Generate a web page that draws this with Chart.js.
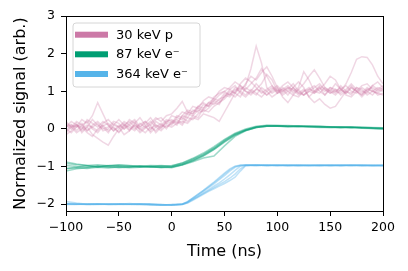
<!DOCTYPE html>
<html><head><meta charset="utf-8">
<script src="https://cdn.jsdelivr.net/npm/chart.js@4.4.0/dist/chart.umd.min.js"></script>
<style>html,body{margin:0;padding:0;background:#fff;}canvas{display:block;}</style>
</head><body>
<canvas id="c" width="408" height="271"></canvas>
<script>
// ---- data ----
const tP = [-100,-95,-90,-85,-80,-75,-70,-65,-60,-55,
  -50,-45,-40,-35,-30,-25,-20,-15,-10,-5,
  0,5,10,15,20,25,30,35,40,45,
  50,55,60,65,70,75,80,85,90,95,
  100,105,110,115,120,125,130,135,140,145,
  150,155,160,165,170,175,180,185,190,195,
  200];
const pink1 = [0.05,0.12,-0.05,0.10,0.20,0.00,-0.10,0.08,0.15,0.02,
  -0.08,0.10,0.05,-0.05,0.12,0.20,0.00,0.10,0.05,0.15,
  0.10,0.30,0.25,0.45,0.40,0.60,0.55,0.70,0.80,0.75,
  0.95,0.90,1.10,1.05,1.15,1.60,2.20,1.75,1.10,0.95,
  1.05,0.90,1.00,1.10,0.95,1.05,0.85,1.00,1.10,0.90,
  1.05,0.95,1.15,1.00,0.90,1.10,1.00,0.95,1.15,1.05,
  1.00];
const pink2 = [-0.05,0.10,0.05,0.25,0.15,0.35,0.70,0.40,0.10,-0.05,
  0.05,0.15,-0.02,0.10,0.00,0.08,0.20,0.05,-0.05,0.10,
  0.05,0.15,0.20,0.15,0.30,0.25,0.40,0.35,0.30,0.20,
  0.45,0.70,0.95,0.85,1.10,1.00,1.20,1.05,0.90,1.00,
  1.10,0.95,1.05,1.20,1.00,0.90,1.05,1.00,1.15,1.05,
  0.95,1.05,1.00,1.20,1.50,1.85,1.92,1.90,1.70,1.40,
  1.20];
const pink3 = [0.10,0.00,0.15,-0.10,0.05,-0.15,-0.25,-0.35,-0.43,-0.20,
  0.00,0.10,0.20,0.05,-0.10,0.02,0.15,0.30,0.20,0.35,
  0.40,0.55,0.73,0.45,0.40,0.55,0.50,0.65,0.75,0.70,
  0.85,1.00,0.95,1.10,1.00,0.95,1.05,1.20,1.45,1.30,
  1.00,1.05,0.90,1.10,1.25,1.10,0.85,0.70,0.80,0.65,
  0.55,0.60,0.80,1.00,0.95,1.10,1.05,0.90,1.00,0.95,
  0.90];
const pink4 = [0.00,-0.10,0.05,0.15,-0.05,0.10,0.20,0.05,-0.10,0.10,
  0.25,0.10,-0.05,0.15,0.30,0.10,-0.10,0.05,0.15,0.00,
  0.20,0.10,0.35,0.30,0.50,0.45,0.65,0.60,0.85,0.95,
  1.00,0.90,1.05,1.00,1.20,1.40,1.30,1.50,1.65,1.40,
  1.10,0.85,0.70,0.90,1.05,1.20,1.40,1.57,1.35,1.10,
  1.00,1.20,1.05,0.95,1.10,1.00,0.90,1.05,1.00,1.10,
  1.05];
const pink5 = [0.15,0.05,-0.10,0.00,0.10,0.05,-0.05,0.15,0.25,0.10,
  0.05,-0.15,-0.05,0.10,0.00,-0.10,0.05,-0.05,0.10,0.05,
  0.15,0.20,0.10,0.30,0.25,0.40,0.50,0.45,0.60,0.70,
  0.80,0.95,0.85,1.00,0.90,1.05,0.95,0.85,1.00,1.10,
  0.95,1.05,1.15,1.00,1.10,1.52,1.30,1.00,0.95,1.10,
  1.00,0.90,1.05,1.15,1.00,0.95,1.10,1.00,0.90,1.05,
  1.15];
const pink6 = [-0.10,0.05,0.20,0.10,-0.05,0.05,0.15,-0.05,0.00,0.15,
  0.05,0.20,0.10,0.00,0.15,0.05,-0.05,0.20,0.10,0.25,
  0.20,0.25,0.15,0.40,0.35,0.30,0.55,0.70,0.65,0.80,
  0.85,1.05,1.15,0.95,0.85,1.00,0.90,1.10,1.00,0.85,
  0.95,1.10,1.00,0.90,0.85,1.00,1.10,0.95,1.05,1.20,
  1.40,1.30,1.05,0.95,1.10,1.00,0.85,1.00,1.15,1.25,
  1.10];
const pink7 = [0.05,0.20,0.10,0.00,0.25,0.15,0.05,0.20,0.10,-0.05,
  0.10,0.00,0.15,0.25,0.05,0.15,0.30,0.10,0.00,0.20,
  0.25,0.15,0.35,0.50,0.45,0.60,0.70,0.60,0.75,0.90,
  1.00,1.10,1.25,1.15,1.00,0.90,1.05,1.00,0.90,1.05,
  1.15,1.00,1.10,1.05,0.90,1.00,1.05,1.15,1.00,0.90,
  1.10,1.00,0.95,1.05,1.20,1.05,0.95,1.10,1.00,0.95,
  1.05];
const pink8 = [0.20,0.05,0.10,-0.05,0.05,0.25,0.10,0.00,0.05,0.20,
  0.15,0.00,0.10,0.20,-0.05,0.05,0.10,0.25,0.30,0.15,
  0.35,0.30,0.45,0.40,0.60,0.55,0.75,0.85,0.80,1.00,
  1.10,1.05,0.95,1.20,1.35,1.25,1.10,0.95,1.05,1.15,
  1.00,1.15,1.25,1.10,0.95,0.90,1.00,1.10,1.20,1.05,
  0.95,1.00,1.10,0.90,0.85,1.00,1.15,1.20,1.05,0.90,
  0.95];
const pink9 = [-0.15,-0.05,0.10,0.05,-0.10,-0.20,0.00,0.10,-0.05,0.05,
  -0.10,0.05,0.25,0.15,0.05,0.20,0.10,-0.10,0.05,0.20,
  0.15,0.35,0.30,0.20,0.35,0.50,0.45,0.55,0.70,0.65,
  0.90,0.85,1.00,1.15,1.05,1.20,1.35,1.60,1.40,1.15,
  0.95,1.00,1.10,0.95,1.05,0.90,1.00,0.95,1.10,1.00,
  1.10,1.05,0.90,1.00,1.15,1.00,0.90,1.05,1.10,1.00,
  1.10];

const tG = [-100,-90,-80,-70,-60,-50,-40,-30,-20,-10,0,
  10,20,30,40,50,60,70,80,90,100,110,120,130,140,150,160,170,180,190,200];
const green1 = [-0.92,-0.95,-0.97,-0.95,-0.98,-0.96,-0.97,-0.99,-0.97,-0.98,-0.97,
  -0.91,-0.80,-0.67,-0.50,-0.30,-0.13,-0.02,0.06,0.08,0.08,0.07,0.08,0.06,0.05,0.05,0.04,0.05,0.03,0.03,0.02];
const green2 = [-1.12,-1.06,-1.03,-1.00,-1.02,-1.00,-1.01,-0.99,-1.01,-1.00,-1.02,
  -0.95,-0.85,-0.72,-0.55,-0.35,-0.17,-0.04,0.04,0.07,0.07,0.06,0.07,0.05,0.04,0.04,0.05,0.03,0.03,0.01,0.00];
const green3 = [-1.05,-1.02,-0.98,-1.01,-0.97,-0.99,-1.00,-0.98,-1.00,-1.02,-1.00,
  -0.93,-0.82,-0.69,-0.52,-0.32,-0.14,-0.03,0.05,0.09,0.09,0.08,0.07,0.08,0.06,0.06,0.05,0.04,0.05,0.03,0.02];
const green4 = [-0.97,-1.00,-1.02,-0.98,-1.00,-1.03,-1.01,-1.00,-1.02,-1.01,-1.03,
  -0.96,-0.87,-0.77,-0.72,-0.45,-0.20,-0.05,0.04,0.07,0.08,0.07,0.06,0.07,0.07,0.05,0.04,0.05,0.03,0.02,0.01];
const green5 = [-0.88,-0.93,-0.97,-1.01,-0.98,-0.96,-0.98,-1.01,-0.99,-0.97,-0.99,
  -0.90,-0.78,-0.64,-0.47,-0.28,-0.11,0.00,0.07,0.10,0.09,0.09,0.08,0.07,0.07,0.06,0.06,0.05,0.04,0.04,0.03];
const green6 = [-1.06,-1.03,-1.05,-1.02,-1.04,-1.01,-1.03,-1.02,-1.00,-1.03,-1.01,
  -0.95,-0.84,-0.71,-0.54,-0.34,-0.16,-0.04,0.04,0.07,0.08,0.06,0.07,0.06,0.05,0.04,0.03,0.04,0.02,0.01,0.00];

const tB = [-100,-90,-80,-70,-60,-50,-40,-30,-20,-10,0,
  10,15,20,25,30,35,40,45,50,55,60,65,70,
  80,90,100,110,120,130,140,150,160,170,180,190,200];
const blue1 = [-1.99,-2.00,-2.01,-2.00,-2.00,-1.99,-2.00,-2.01,-2.00,-2.02,-2.01,
  -1.99,-1.93,-1.83,-1.73,-1.63,-1.52,-1.41,-1.29,-1.17,-1.06,-0.99,-0.96,-0.96,
  -0.97,-0.96,-0.97,-0.97,-0.96,-0.97,-0.97,-0.96,-0.97,-0.97,-0.96,-0.97,-0.97];
const blue2 = [-1.93,-1.97,-2.00,-1.99,-2.01,-2.00,-1.98,-2.00,-2.02,-2.03,-2.02,
  -2.00,-1.94,-1.85,-1.76,-1.66,-1.56,-1.46,-1.35,-1.24,-1.12,-1.02,-0.97,-0.96,
  -0.96,-0.97,-0.96,-0.98,-0.97,-0.96,-0.97,-0.98,-0.96,-0.97,-0.98,-0.97,-0.96];
const blue3 = [-2.00,-2.01,-1.99,-2.00,-2.00,-2.01,-2.00,-1.99,-2.01,-2.02,-2.01,
  -2.00,-1.95,-1.87,-1.79,-1.70,-1.61,-1.52,-1.43,-1.33,-1.22,-1.10,-0.99,-0.96,
  -0.97,-0.97,-0.96,-0.97,-0.98,-0.97,-0.96,-0.97,-0.97,-0.96,-0.97,-0.98,-0.97];
const blue4 = [-1.98,-1.99,-2.01,-2.00,-1.99,-2.00,-2.01,-2.00,-1.99,-2.01,-2.03,
  -2.01,-1.96,-1.88,-1.80,-1.72,-1.64,-1.56,-1.48,-1.40,-1.31,-1.20,-1.06,-0.97,
  -0.96,-0.97,-0.97,-0.96,-0.97,-0.97,-0.98,-0.96,-0.97,-0.96,-0.97,-0.97,-0.98];
const blue5 = [-2.01,-2.00,-2.00,-2.01,-2.00,-1.99,-2.00,-2.01,-2.00,-2.01,-2.02,
  -2.01,-1.97,-1.90,-1.82,-1.74,-1.66,-1.59,-1.52,-1.45,-1.37,-1.28,-1.12,-0.98,
  -0.97,-0.96,-0.97,-0.97,-0.96,-0.97,-0.97,-0.97,-0.96,-0.97,-0.97,-0.96,-0.97];
const blue6 = [-1.99,-2.00,-2.00,-1.99,-2.01,-2.00,-2.00,-1.99,-2.01,-2.02,-2.02,
  -2.00,-1.94,-1.84,-1.74,-1.64,-1.54,-1.43,-1.32,-1.20,-1.09,-1.00,-0.97,-0.97,
  -0.96,-0.97,-0.97,-0.96,-0.97,-0.97,-0.96,-0.97,-0.98,-0.97,-0.96,-0.97,-0.97];

const legendLabels = ['30 keV p', '87 keV e\u207B', '364 keV e\u207B'];
const xTicks = [-100,-50,0,50,100,150,200];
const yTicks = [-2,-1,0,1,2,3];

// ---- styling ----
const PINK = '#CC79A7', GREEN = '#009E73', BLUE = '#56B4E9';
function rgba(hex, a){const n=parseInt(hex.slice(1),16);return `rgba(${n>>16},${(n>>8)&255},${n&255},${a})`;}
function mk(t, ys, color, alpha){
  return {data: t.map((x,i)=>({x, y: ys[i]})), borderColor: rgba(color, alpha),
    borderWidth: 1.5, pointRadius: 0, fill: false, tension: 0};
}
const datasets = [];
[pink1,pink2,pink3,pink4,pink5,pink6,pink7,pink8,pink9].forEach(s=>datasets.push(mk(tP,s,PINK,0.3)));
[green1,green2,green3,green4,green5,green6].forEach(s=>datasets.push(mk(tG,s,GREEN,0.38)));
[blue1,blue2,blue3,blue4,blue5,blue6].forEach(s=>datasets.push(mk(tB,s,BLUE,0.38)));

Chart.defaults.font.family = 'DejaVu Sans';
Chart.defaults.color = '#000';

const frame = {
  id: 'frame',
  afterDraw(chart){
    const {ctx, chartArea: a} = chart;
    ctx.save();
    ctx.strokeStyle = '#000'; ctx.lineWidth = 1;
    ctx.strokeRect(Math.round(a.left)+0.5, Math.round(a.top)+0.5, Math.round(a.right-a.left), Math.round(a.bottom-a.top));
    // legend
    const lx = 73, ly = 23, lw = 127, lh = 64, r = 3;
    ctx.beginPath();
    ctx.moveTo(lx+r, ly); ctx.lineTo(lx+lw-r, ly); ctx.arcTo(lx+lw, ly, lx+lw, ly+r, r);
    ctx.lineTo(lx+lw, ly+lh-r); ctx.arcTo(lx+lw, ly+lh, lx+lw-r, ly+lh, r);
    ctx.lineTo(lx+r, ly+lh); ctx.arcTo(lx, ly+lh, lx, ly+lh-r, r);
    ctx.lineTo(lx, ly+r); ctx.arcTo(lx, ly, lx+r, ly, r); ctx.closePath();
    ctx.fillStyle = 'rgba(255,255,255,0.8)'; ctx.fill();
    ctx.strokeStyle = '#d6d6d6'; ctx.lineWidth = 1; ctx.stroke();
    const cols = [PINK, GREEN, BLUE];
    const rows = [34.7, 54.3, 74];
    ctx.font = '13px "DejaVu Sans"'; ctx.textBaseline = 'middle'; ctx.textAlign = 'left';
    legendLabels.forEach((lab, i)=>{
      ctx.fillStyle = cols[i];
      ctx.fillRect(75, rows[i]-3, 33, 6);
      ctx.fillStyle = '#000';
      ctx.fillText(lab, 116, rows[i]+0.5);
    });
    ctx.restore();
  }
};

const fmt = v => String(v).replace('-', '\u2212');

new Chart(document.getElementById('c'), {
  type: 'line',
  data: {datasets},
  options: {
    responsive: false, animation: false, devicePixelRatio: 1,
    layout: {padding: {top: 16, right: 25, left: 0, bottom: 0}},
    plugins: {legend: {display: false}, tooltip: {enabled: false}},
    scales: {
      x: {type: 'linear', min: -100, max: 200,
        afterBuildTicks: ax => { ax.ticks = xTicks.map(v=>({value: v})); },
        afterFit: ax => { ax.height = 60; },
        ticks: {callback: fmt, font: {size: 12.5}, color: '#000', padding: 4, maxRotation: 0},
        grid: {drawOnChartArea: false, tickLength: 5, color: '#000', tickWidth: 1},
        border: {color: '#000', width: 1},
        title: {display: true, text: 'Time (ns)', font: {size: 16}, color: '#000', padding: {top: 0, bottom: 10}}
      },
      y: {type: 'linear', min: -2.18, max: 3,
        afterBuildTicks: ax => { ax.ticks = yTicks.map(v=>({value: v})); },
        afterFit: ax => { ax.width = 66; },
        ticks: {callback: fmt, font: {size: 12.5}, color: '#000', padding: 6},
        grid: {drawOnChartArea: false, tickLength: 5, color: '#000', tickWidth: 1},
        border: {color: '#000', width: 1},
        title: {display: true, text: 'Normalized signal (arb.)', font: {size: 16}, color: '#000', padding: {top: 11, bottom: 0}}
      }
    }
  },
  plugins: [frame]
});
</script>
</body></html>
